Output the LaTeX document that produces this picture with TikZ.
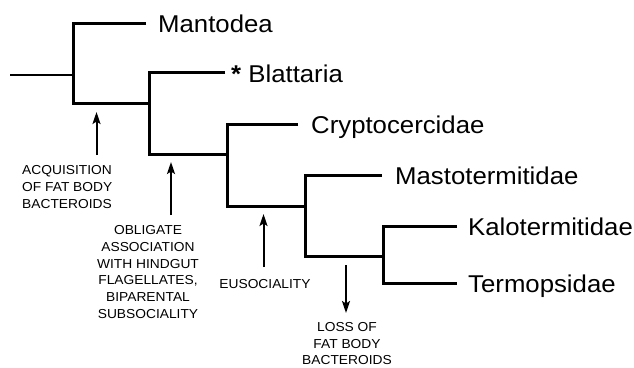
\documentclass[tikz,border=0pt]{standalone}
\usepackage{fontspec}
\setmainfont{Liberation Sans}[FakeStretch=1.06]
\usetikzlibrary{arrows.meta}
\begin{document}
\begin{tikzpicture}[x=1pt,y=-1pt,
  branch/.style={line width=3pt, line cap=butt, line join=miter},
  thinbranch/.style={branch, line width=2.5pt},
  taxon/.style={anchor=base west, inner sep=0pt, font=\fontsize{24.3}{28}\selectfont},
  note/.style={inner sep=0pt, font=\fontsize{13}{16.7}\selectfont},
  evt/.style={line width=2pt, -{Stealth[length=12pt,width=8pt,inset=2.5pt]}}]
\useasboundingbox (0,0) rectangle (634,367);
% tree coordinates
\coordinate (root) at (10,75);
\coordinate (n1) at (73,75);
\coordinate (n1top) at (73,23);
\coordinate (n1bot) at (73,103);
\coordinate (n2) at (149,103);
\coordinate (n2top) at (149,72);
\coordinate (n2bot) at (149,154);
\coordinate (n3) at (227,154);
\coordinate (n3top) at (227,124);
\coordinate (n3bot) at (227,206);
\coordinate (n4) at (305,206);
\coordinate (n4top) at (305,175);
\coordinate (n4bot) at (305,256);
\coordinate (n5) at (383,256);
\coordinate (n5top) at (383,226);
\coordinate (n5bot) at (383,283);
\coordinate (lMan) at (146,23);
\coordinate (lBla) at (225,72);
\coordinate (lCry) at (298,124);
\coordinate (lMas) at (382,175);
\coordinate (lKal) at (457,226);
\coordinate (lTer) at (457,283);
% taxa
\node[taxon] (tMan) at (158,32.3) {Mantodea};
\node[taxon] (tBla) at (231,82.5) {{\bfseries*} Blattaria};
\node[taxon] (tCry) at (311,133.3) {Cryptocercidae};
\node[taxon] (tMas) at (395,184.3) {Mastotermitidae};
\node[taxon] (tKal) at (468,235.3) {Kalotermitidae};
\node[taxon] (tTer) at (468,292.3) {Termopsidae};
% branches
\draw[thinbranch] (root) -- (n1);
\draw[branch] (lMan) -- (n1top) -- (n1bot) -- (n2);
\draw[branch] (lBla) -- (n2top) -- (n2bot) -- (n3);
\draw[branch] (lCry) -- (n3top) -- (n3bot) -- (n4);
\draw[branch] (lMas) -- (n4top) -- (n4bot) -- (n5);
\draw[branch] (lKal) -- (n5top) -- (n5bot) -- (lTer);
% event notes
\node[note, anchor=north west, align=left] (eAcq) at (22,165.5)
  {ACQUISITION\\OF FAT BODY\\BACTEROIDS};
\node[note, anchor=north, align=center] (eObl) at (148,225.5)
  {OBLIGATE\\ASSOCIATION\\WITH HINDGUT\\FLAGELLATES,\\BIPARENTAL\\SUBSOCIALITY};
\node[note, anchor=base] (eEus) at (265,288) {EUSOCIALITY};
\node[note, anchor=north, align=center] (eLoss) at (347,322.2)
  {LOSS OF\\FAT BODY\\BACTEROIDS};
% arrows
\coordinate (a1s) at (96.5,155);
\coordinate (a1e) at (96.5,112);
\coordinate (a2s) at (171,215);
\coordinate (a2e) at (171,162);
\coordinate (a3s) at (263.5,267);
\coordinate (a3e) at (263.5,214);
\coordinate (a4s) at (346,265);
\coordinate (a4e) at (346,313);
\draw[evt] (a1s) -- (a1e);
\draw[evt] (a2s) -- (a2e);
\draw[evt] (a3s) -- (a3e);
\draw[evt] (a4s) -- (a4e);
\end{tikzpicture}
\end{document}
